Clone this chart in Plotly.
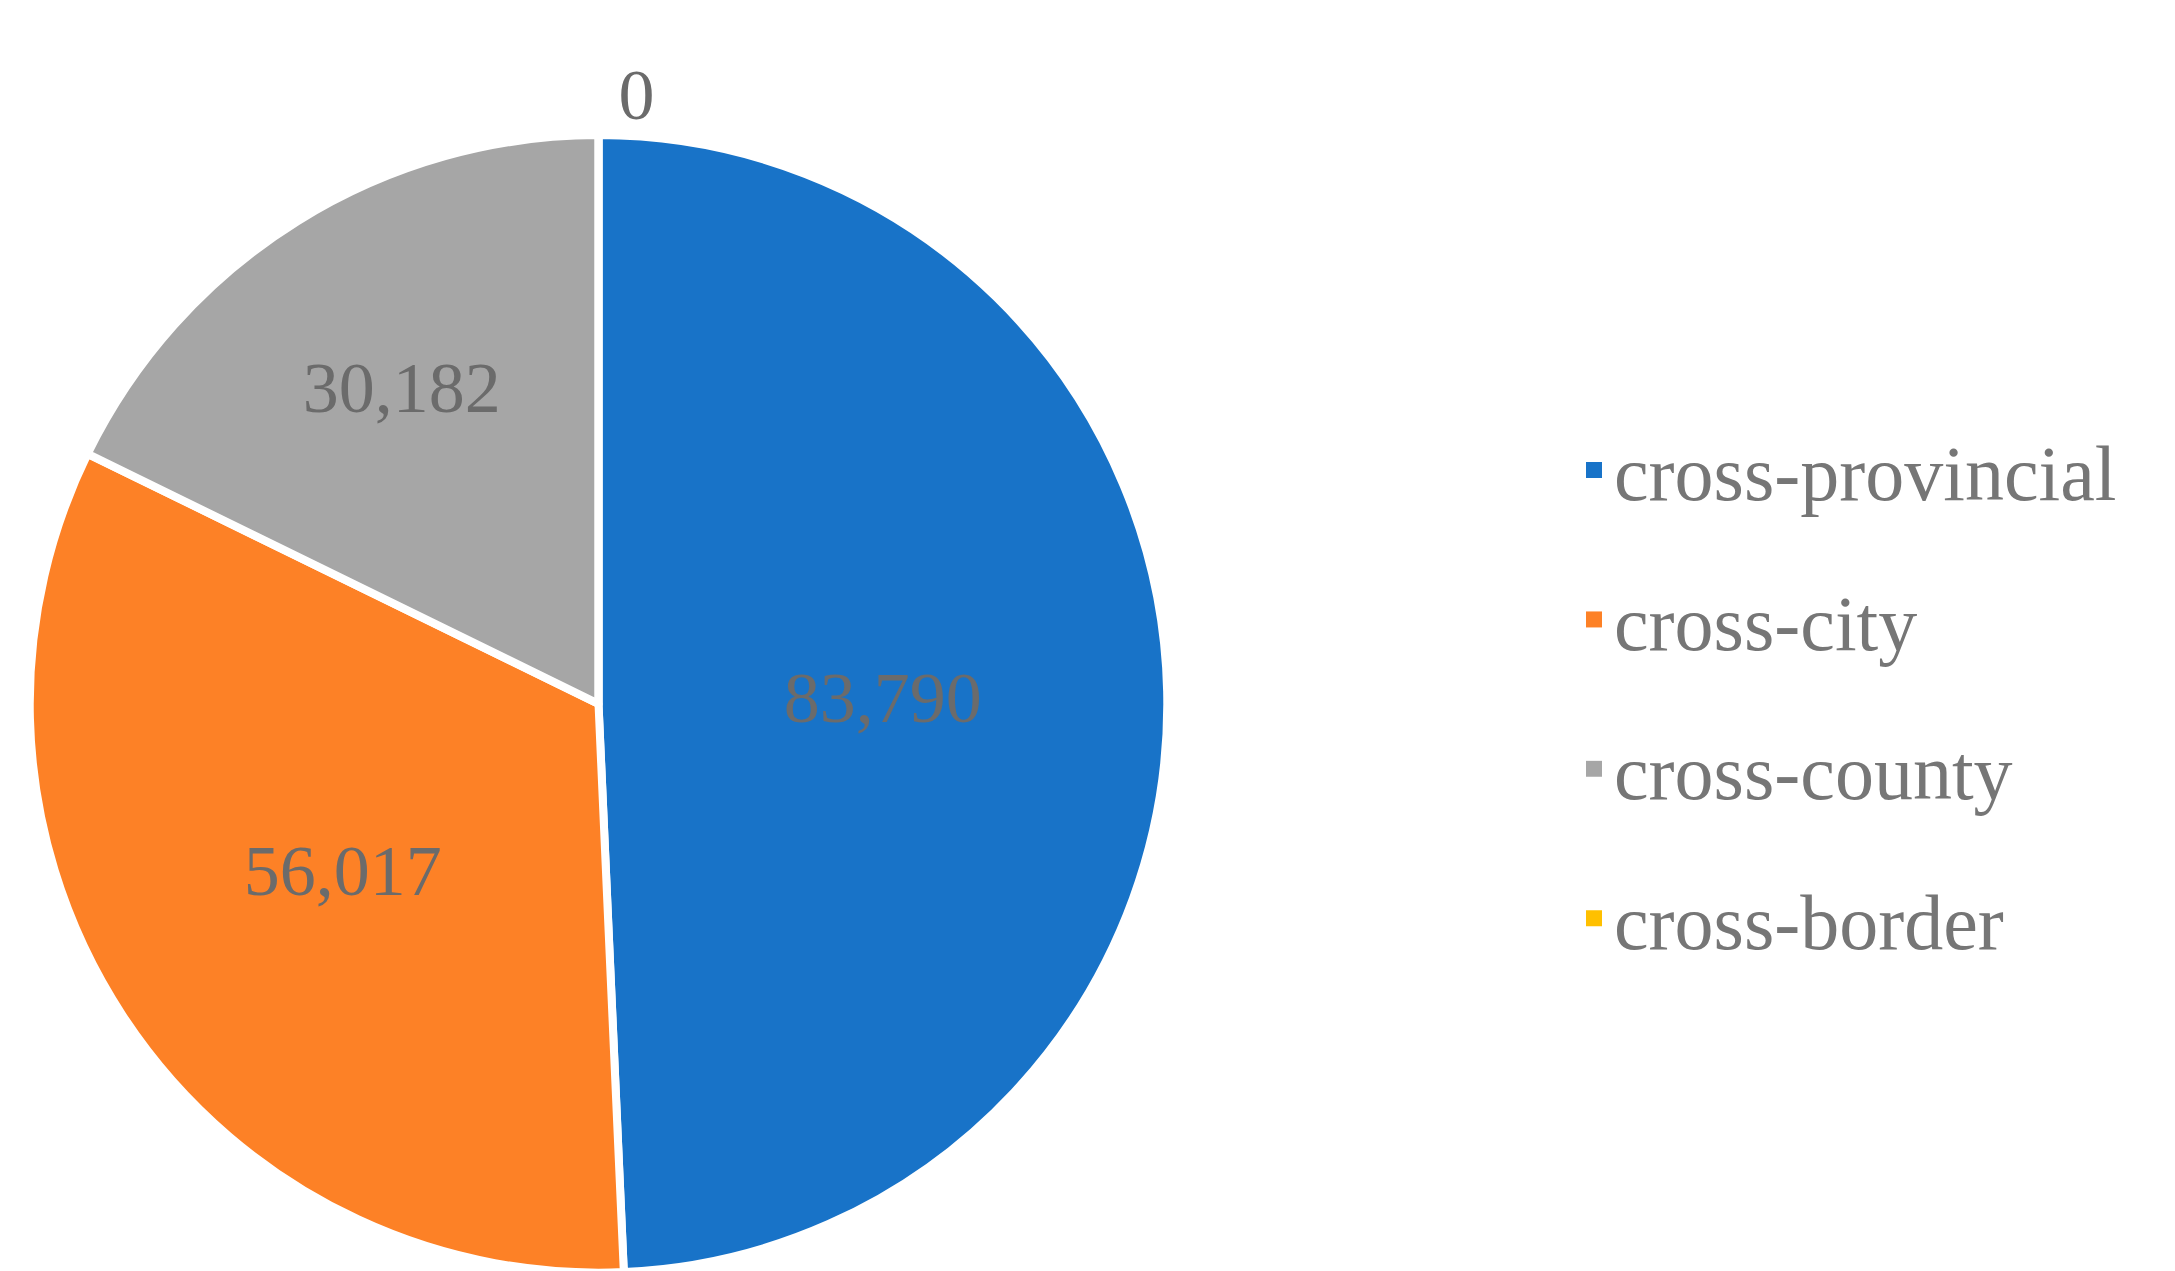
import plotly.graph_objects as go

labels = ["cross-provincial", "cross-city", "cross-county", "cross-border"]
values = [83790, 56017, 30182, 0]
colors = ["#1873C8", "#FD8126", "#A6A6A6", "#FFC000"]

fig = go.Figure()
fig.add_trace(go.Pie(
    labels=labels,
    values=values,
    sort=False,
    direction="clockwise",
    rotation=0,
    marker=dict(colors=colors, line=dict(color="white", width=8)),
    texttemplate="%{value:,}",
    textposition=["inside", "inside", "inside", "outside"],
    insidetextorientation="horizontal",
    textfont=dict(family="Liberation Serif", size=72, color="#6b6b6b"),
    domain=dict(x=[0.008, 0.535], y=[0.005, 0.9]),
    showlegend=False,
))

# legend entries with square markers
for name, c in zip(labels, colors):
    fig.add_trace(go.Scatter(
        x=[None], y=[None], mode="markers", name=name, legendgroup=name,
        marker=dict(symbol="square", size=30, color=c),
    ))

fig.update_layout(
    width=2175, height=1271,
    margin=dict(l=0, r=0, t=0, b=0),
    paper_bgcolor="white",
    plot_bgcolor="white",
    xaxis=dict(visible=False),
    yaxis=dict(visible=False),
    legend=dict(
        x=0.72, y=0.46, yanchor="middle", traceorder="grouped",
        font=dict(family="Liberation Serif", size=78, color="#767676"),
        itemwidth=30, tracegroupgap=45,
    ),
)

fig.write_html("out.html")
